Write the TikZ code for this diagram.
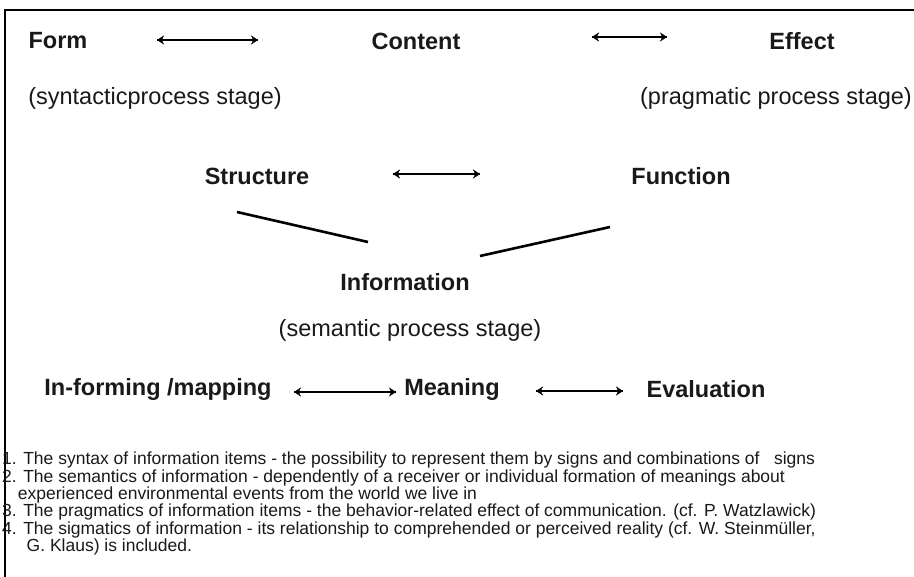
\documentclass[tikz,border=0pt]{standalone}
\usepackage{fontspec}
\setmainfont{Liberation Sans}
\usetikzlibrary{arrows.meta}

\begin{document}
\begin{tikzpicture}[x=1pt,y=-1pt,
        every node/.style={inner sep=0pt, text=black!90},
        head/.style={font=\fontsize{23.5}{28}\selectfont\bfseries},
        stage/.style={font=\fontsize{23.5}{28}\selectfont},
        note/.style={font=\fontsize{17.5}{15.2}\selectfont, align=left, anchor=north west},
        shaft/.style={line width=2.6pt},
        tips/.style={arrows={Stealth[length=7pt,width=9pt]-Stealth[length=7pt,width=9pt]}},
        bar/.style={line width=2.6pt}]
                \useasboundingbox (0,0) rectangle (914,577);
                \draw[line width=2pt] (914,10) -- (5,10) -- (5,577);

                \node[head] (form) at (58,41) {Form};
                \node[head] (content) at (416,41) {Content};
                \node[head] (effect) at (802,41) {Effect};
                \node[stage] (syn) at (155,98) {(syntacticprocess stage)};
                \node[stage] (prag) at (776,98) {(pragmatic process stage)};

                \node[head] (structure) at (257,176) {Structure};
                \node[head] (function) at (681,176) {Function};
                \node[head] (information) at (405,282) {Information};
                \node[stage] (sem) at (410,330) {(semantic process stage)};

                \node[head] (inform) at (158,389) {In-forming /mapping};
                \node[head] (meaning) at (452,389) {Meaning};
                \node[head] (evaluation) at (706,389) {Evaluation};

                \node[note] (notes) at (2,452) {1. The syntax of information items - the possibility to represent them by signs and combinations of \ \ signs\\
                    2. The semantics of information - dependently of a receiver or individual formation of meanings about\\
                    \hspace*{0.9em}experienced environmental events from the world we live in\\
                    3. The pragmatics of information items - the behavior-related effect of communication. (cf. P. Watzlawick)\\
                    4. The sigmatics of information - its relationship to comprehended or perceived reality (cf. W. Steinmüller,\\
                    \hspace*{1.4em}G. Klaus) is included.};

                % arrow ends
                \coordinate (fc1) at (157,40);
                \coordinate (fc2) at (258,40);
                \coordinate (ce1) at (592,37);
                \coordinate (ce2) at (667,37);
                \coordinate (sf1) at (393,174);
                \coordinate (sf2) at (480,174);
                \coordinate (im1) at (294,392);
                \coordinate (im2) at (396,392);
                \coordinate (me1) at (536,391);
                \coordinate (me2) at (623,391);

                % slanted strokes under Structure / Function
                \coordinate (sa) at (237,212);
                \coordinate (sb) at (368,242);
                \coordinate (fa) at (480,256);
                \coordinate (fb) at (610,227);

                \foreach \a/\b in {fc1/fc2, ce1/ce2, sf1/sf2, im1/im2, me1/me2}{
                    \draw[shaft] (\a) -- (\b);
                    \draw[tips] (\a) -- (\b);
                }
                \draw[bar] (sa) -- (sb);
                \draw[bar] (fa) -- (fb);
            \end{tikzpicture}
\end{document}
